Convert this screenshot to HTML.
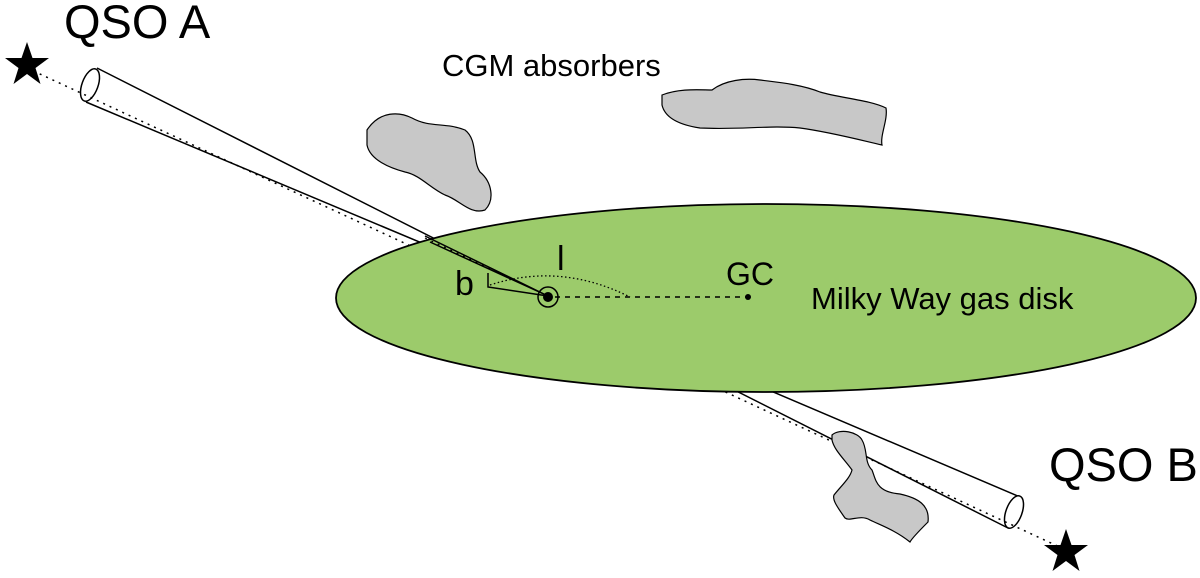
<!DOCTYPE html>
<html><head><style>body{margin:0;background:#fff}svg{display:block}</style></head><body>
<svg width="1200" height="578" viewBox="0 0 1200 578" xmlns="http://www.w3.org/2000/svg" font-family="Liberation Sans, sans-serif">
<rect width="1200" height="578" fill="#fff"/>
<path d="M97,68 L548,296 L86,102" fill="#fff" stroke="#000" stroke-width="1.5"/>
<ellipse cx="90" cy="85" rx="8" ry="17" transform="rotate(20 90 85)" fill="#fff" stroke="#000" stroke-width="1.5"/>
<path d="M548,296 L1020,497 L1008,528 Z" fill="#fff" stroke="#000" stroke-width="1.5"/>
<ellipse cx="1014" cy="512" rx="8" ry="17" transform="rotate(20 1014 512)" fill="#fff" stroke="#000" stroke-width="1.5"/>
<line x1="27" y1="68" x2="1066" y2="550" stroke="#000" stroke-width="1.5" stroke-dasharray="2,5"/>
<ellipse cx="766" cy="298" rx="430" ry="94" fill="#9ccb6b" stroke="#000" stroke-width="1.8"/>
<path d="M425,236 L548,296 L430,242" fill="none" stroke="#000" stroke-width="1.5"/>
<line x1="425" y1="238" x2="548" y2="296" stroke="#000" stroke-width="1.2" stroke-dasharray="2,5"/>
<path d="M488,273 L488,287 L548,296" fill="none" stroke="#000" stroke-width="1.5"/>
<path d="M490,285 Q560,262 630,297" fill="none" stroke="#000" stroke-width="1.3" stroke-dasharray="1.5,2.5"/>
<line x1="555" y1="297" x2="748" y2="297" stroke="#000" stroke-width="1.5" stroke-dasharray="5,5"/>
<circle cx="748" cy="297" r="3" fill="#000"/>
<circle cx="548" cy="297" r="10" fill="none" stroke="#000" stroke-width="1.5"/>
<circle cx="548" cy="297" r="5" fill="#000"/>
<text x="455" y="295" font-size="34">b</text>
<text x="557" y="270" font-size="34">l</text>
<text x="726" y="285" font-size="32">GC</text>
<text x="811" y="309" font-size="31">Milky Way gas disk</text>
<path d="M367,130 C380,110 400,112 412,118 C430,128 445,122 465,130 C478,140 472,160 480,172 C492,182 495,200 485,210 C470,215 460,200 445,195 C430,188 420,175 405,172 C390,168 370,160 367,145 Z" fill="#c8c8c8" stroke="#000" stroke-width="1.2"/>
<path d="M662,95 C680,88 700,90 712,90 C725,80 745,78 760,80 C775,82 800,84 820,92 C840,98 870,100 886,108 C888,120 880,135 882,145 C860,140 830,132 800,128 C770,125 740,130 700,128 C680,125 665,118 662,105 Z" fill="#c8c8c8" stroke="#000" stroke-width="1.2"/>
<path d="M832,435 C840,428 858,432 862,440 C868,450 864,462 872,470 C876,480 876,492 900,494 C918,498 930,505 928,522 C920,530 912,538 910,542 C895,530 880,525 870,520 C860,514 850,522 845,518 C838,508 832,500 834,495 C842,485 850,478 852,470 C845,460 834,450 832,440 Z" fill="#c8c8c8" stroke="#000" stroke-width="1.2"/>
<text x="442" y="76" font-size="31">CGM absorbers</text>
<text x="64" y="38" font-size="47">QSO A</text>
<text x="1049" y="481" font-size="47">QSO B</text>
<polygon points="27,42 32.5,58 49,58 35.5,68 40.5,84 27,74 13.5,84 18.5,68 5,58 21.5,58" fill="#000"/>
<polygon points="1066,529 1071.5,545 1088,545 1074.5,555 1079.5,571 1066,561 1052.5,571 1057.5,555 1044,545 1060.5,545" fill="#000"/>
</svg>
</body></html>
